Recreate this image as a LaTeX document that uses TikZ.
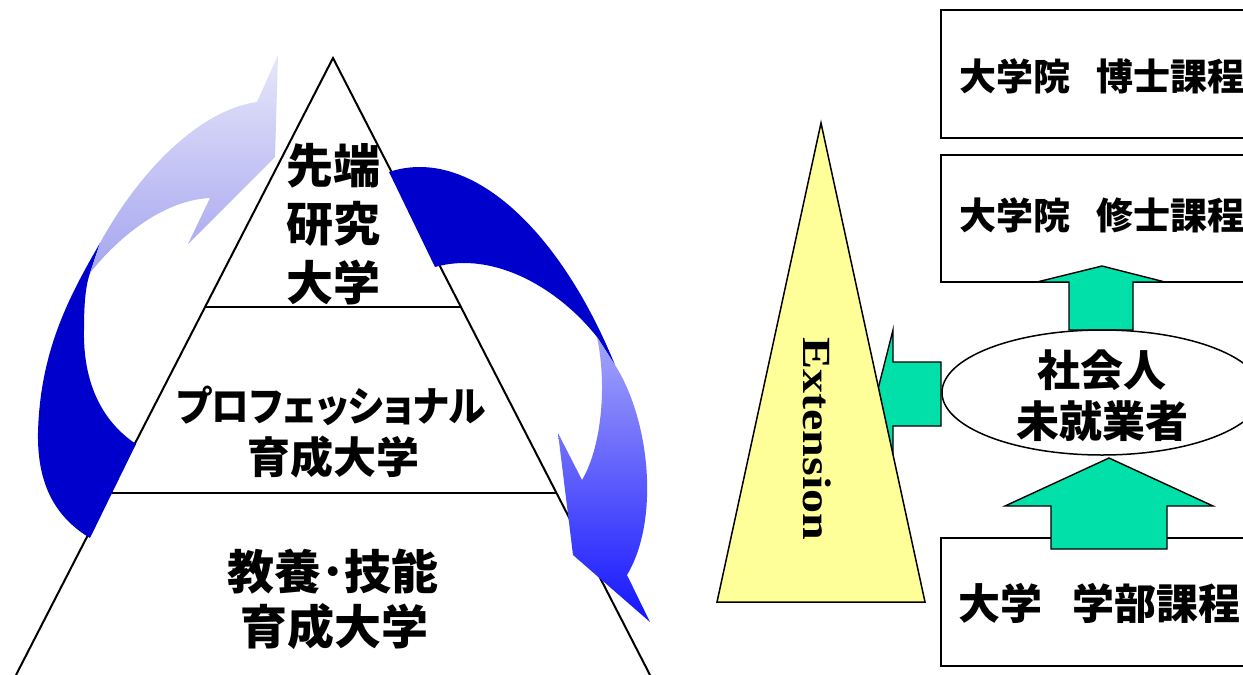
\documentclass[tikz,border=0pt]{standalone}
\usepackage{fontspec}
\newfontfamily\jp{Noto Sans CJK JP}
\newfontfamily\jpp{Noto Sans CJK JP}[RawFeature=+palt]
\newfontfamily\tms{Liberation Serif}
\definecolor{dkblue}{RGB}{0,0,204}
\definecolor{ltop}{RGB}{230,230,250}
\definecolor{lbot}{RGB}{165,165,240}
\definecolor{rtop}{RGB}{165,165,250}
\definecolor{rbot}{RGB}{20,20,255}
\definecolor{tealg}{RGB}{0,224,168}
\definecolor{ylw}{RGB}{255,255,153}
\begin{document}
\begin{tikzpicture}[x=1pt,y=-1pt,
  jptext/.style={inner sep=0pt, align=center},
  pyr/.style={line width=2pt, black},
  boxstyle/.style={draw=black, line width=1.6pt, fill=white},
  grn/.style={draw=black, line width=1.4pt, fill=tealg, line join=miter},
]
\useasboundingbox (0,0) rectangle (1243,675);
\clip (0,0) rectangle (1243,675);
\fill[white] (0,0) rectangle (1243,675);

% ---------- pyramid ----------
\coordinate (apex) at (333,58);
\coordinate (bl) at (16,675);
\coordinate (br) at (650,675);
\coordinate (l1) at (205,307);
\coordinate (r1) at (461,307);
\coordinate (l2) at (109.5,493);
\coordinate (r2) at (556.5,493);
\draw[pyr] (bl) -- (apex) -- (br);
\draw[pyr] (l1) -- (r1);
\draw[pyr] (l2) -- (r2);

\node[jptext, font=\jp\bfseries\fontsize{47}{58.5}\selectfont] (tiertop) at (333,224) {先端\\研究\\大学};
\node[jptext, font=\jpp\bfseries\fontsize{41}{41}\selectfont] (tiermidA) at (331,406) {\scalebox{0.92}[1]{プロフェッショナル}};
\node[jptext, font=\jp\bfseries\fontsize{43}{43}\selectfont] (tiermidB) at (333,457) {育成大学};
\node[jptext, font=\jp\bfseries\fontsize{47}{47}\selectfont] (tierbotA) at (333,572) {教養･技能};
\node[jptext, font=\jp\bfseries\fontsize{47}{47}\selectfont] (tierbotB) at (334,627) {育成大学};

% ---------- left curved arrow ----------
\fill[dkblue] (100,243) .. controls (70,295) and (40,350) .. (38,433)
  .. controls (37,490) and (60,520) .. (90,538)
  -- (136,444)
  .. controls (100,420) and (83,380) .. (84,330)
  .. controls (84,300) and (86,285) .. (90,273) -- cycle;
\shade[top color=ltop, bottom color=lbot] (100,243)
  .. controls (140,170) and (200,110) .. (257,102)
  -- (278,55) -- (275,157) -- (188,244) -- (210,198)
  .. controls (165,200) and (120,235) .. (90,273) -- cycle;

% ---------- right curved arrow ----------
\fill[dkblue] (389,172) .. controls (470,145) and (560,230) .. (615,365)
  -- (597,337)
  .. controls (560,290) and (495,250) .. (435,267) -- cycle;
\shade[top color=rtop, bottom color=rbot] (615,365)
  .. controls (650,420) and (660,520) .. (627,575)
  -- (650,622) -- (573,555) -- (558,433) -- (582,480)
  .. controls (600,450) and (608,390) .. (597,337) -- cycle;

% ---------- right side ----------
\draw[boxstyle] (941,10) rectangle (1260,138);
\draw[boxstyle] (941,155) rectangle (1260,282);
\draw[boxstyle] (941,538) rectangle (1260,666);
\node[jptext, anchor=west, font=\jp\bfseries\fontsize{37}{37}\selectfont] (phd) at (959,76) {大学院\hspace{0.72em}博士課程};
\node[jptext, anchor=west, font=\jp\bfseries\fontsize{37}{37}\selectfont] (msc) at (959,215) {大学院\hspace{0.72em}修士課程};
\node[jptext, anchor=west, font=\jp\bfseries\fontsize{42}{42}\selectfont] (ug) at (958,603) {大学\hspace{0.72em}学部課程};

% left-pointing arrow into triangle
\draw[grn] (941,362) -- (893,362) -- (893,330) -- (877,393) -- (893,458) -- (893,426) -- (941,426) -- cycle;

% yellow triangle
\draw[fill=ylw, line width=1.5pt, line join=miter] (821,123) -- (925,602) -- (717,602) -- cycle;
\node[inner sep=0pt, rotate=-90, font=\tms\bfseries\fontsize{40}{40}\selectfont] (ext) at (817,439) {\scalebox{1.2}[1]{Extension}};

% up arrows
\draw[grn] (1069,330) -- (1069,282) -- (1037,282) -- (1102,266) -- (1165,282) -- (1133,282) -- (1133,330) -- cycle;
\draw[grn] (1051,549) -- (1051,506) -- (1005,506) -- (1109,458) -- (1213,506) -- (1167,506) -- (1167,549) -- cycle;

% ellipse
\draw[fill=white, line width=1.5pt] (1102,392.5) ellipse [x radius=160, y radius=62.5];
\node[jptext, font=\jp\bfseries\fontsize{43}{51}\selectfont] (soc) at (1102,396) {社会人\\未就業者};
\end{tikzpicture}
\end{document}
